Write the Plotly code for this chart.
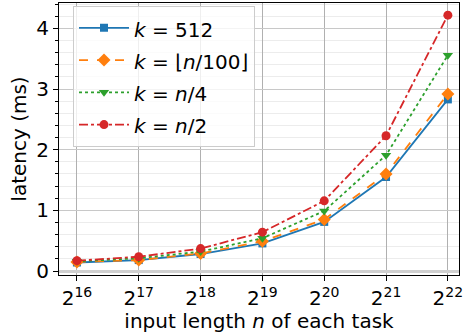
import math
import plotly.graph_objects as go

exponents = [16, 17, 18, 19, 20, 21, 22]
x_vals = [2 ** e for e in exponents]
tick_text = [f"2<sup>{e}</sup>" for e in exponents]

series_names = [
    "<i>k</i> = 512",
    "<i>k</i> = ⌊<i>n</i>/100⌋",
    "<i>k</i> = <i>n</i>/4",
    "<i>k</i> = <i>n</i>/2",
]
k512 = [0.14, 0.18, 0.28, 0.455, 0.81, 1.55, 2.83]
k_n100 = [0.15, 0.18, 0.29, 0.49, 0.85, 1.60, 2.92]
k_n4 = [0.16, 0.21, 0.32, 0.54, 0.99, 1.91, 3.56]
k_n2 = [0.17, 0.235, 0.37, 0.64, 1.157, 2.23, 4.22]

colors = ["#1f77b4", "#ff7f0e", "#2ca02c", "#d62728"]
dashes = ["solid", "dash", "dot", "dashdot"]
symbols = ["square", "diamond", "triangle-down", "circle"]
sizes = [8, 10, 9, 9]

fig = go.Figure()
for name, ys, c, d, s, sz in zip(series_names, [k512, k_n100, k_n4, k_n2], colors, dashes, symbols, sizes):
    fig.add_trace(go.Scatter(
        x=x_vals, y=ys,
        name=f'<span style="font-size:20px">{name}</span>',
        mode="lines+markers",
        line=dict(color=c, dash=d, width=1.8),
        marker=dict(symbol=s, size=sz, color=c),
    ))

font_family = "DejaVu Sans"
x_lo = math.log10(2 ** 15.71)
x_hi = math.log10(2 ** 22.18)

fig.update_layout(
    width=463, height=333,
    margin=dict(l=59, r=0, t=3, b=58),
    paper_bgcolor="white", plot_bgcolor="white",
    font=dict(family=font_family, size=19, color="black"),
    showlegend=True,
    legend=dict(
        x=0.035, y=0.99, xanchor="left", yanchor="top",
        bgcolor="rgba(255,255,255,0.8)", bordercolor="#cccccc", borderwidth=1,
        font=dict(size=22.5, family=font_family),
        itemwidth=50,
    ),
)
fig.update_xaxes(
    type="log", range=[x_lo, x_hi],
    tickvals=x_vals, ticktext=tick_text,
    ticklabeloverflow="allow",
    showgrid=True, gridcolor="#b0b0b0", gridwidth=1,
    showline=True, linecolor="black", linewidth=1, mirror=True,
    ticks="outside", ticklen=5, tickcolor="black",
    tickfont=dict(size=20),
    title=dict(text="input length <i>n</i> of each task", font=dict(size=20), standoff=5),
)
fig.update_yaxes(
    range=[-0.066, 4.42], dtick=1, tick0=0,
    showgrid=True, gridcolor="#c8c8c8", gridwidth=1.3,
    zeroline=True, zerolinecolor="#d0d0d0", zerolinewidth=2.5,
    showline=True, linecolor="black", linewidth=1, mirror=True,
    ticks="outside", ticklen=5, tickcolor="black",
    tickfont=dict(size=20),
    minor=dict(dtick=0.2, tick0=0, showgrid=True, gridcolor="#ececec", gridwidth=1,
               ticks="outside", ticklen=3, tickcolor="black"),
    title=dict(text="latency (ms)", font=dict(size=20), standoff=4),
)

fig.write_html("out.html")
